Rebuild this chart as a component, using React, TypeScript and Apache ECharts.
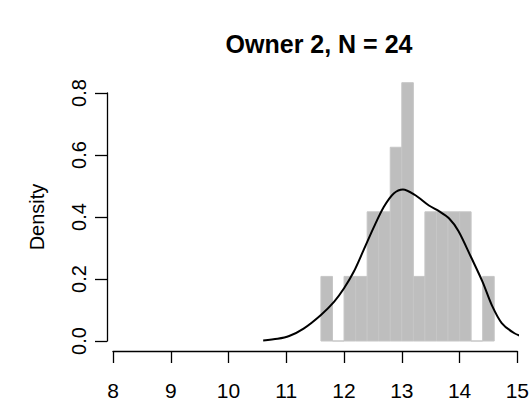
import React, { useEffect, useRef } from "react";
import * as echarts from "echarts";

// Histogram of owner 2's values (bins of width 0.2) with a kernel density overlay
const N = 24;
const binWidth = 0.2;
const binLeft = [11.6, 11.8, 12.0, 12.2, 12.4, 12.6, 12.8, 13.0, 13.2, 13.4, 13.6, 13.8, 14.0, 14.2, 14.4];
const binCounts = [1, 0, 1, 1, 2, 2, 3, 4, 1, 2, 2, 2, 2, 0, 1];

const densityX = [10.6, 10.85, 11.05, 11.3, 11.6, 11.83, 12.0, 12.17, 12.34, 12.52, 12.69, 12.86, 13.02, 13.23, 13.47, 13.65, 13.82, 13.98, 14.2, 14.4, 14.56, 14.73, 14.95, 15.13];
const densityY = [0.002, 0.007, 0.016, 0.04, 0.084, 0.127, 0.17, 0.224, 0.294, 0.369, 0.433, 0.476, 0.489, 0.471, 0.437, 0.418, 0.395, 0.355, 0.27, 0.19, 0.115, 0.058, 0.025, 0.012];

const xTickLabels = ["8", "9", "10", "11", "12", "13", "14", "15"];
const yTickLabels = ["0.0", "0.2", "0.4", "0.6", "0.8"];

const titleText = "Owner 2, N = 24";
const yName = "Density";

const FONT = "Liberation Sans, Arial, Helvetica, sans-serif";

export default function App() {
  const ref = useRef<HTMLDivElement>(null);

  useEffect(() => {
    if (!ref.current) return;
    const chart = echarts.init(ref.current, undefined, { renderer: "svg" });

    const bars = binLeft.map((l, i) => [l, l + binWidth, binCounts[i] / (N * binWidth)]);
    const curve = densityX.map((x, i) => [x, densityY[i]]);

    chart.setOption({
      animation: false,
      backgroundColor: "#ffffff",
      title: {
        text: titleText,
        left: 314,
        top: 26,
        textAlign: "center",
        textStyle: { fontFamily: FONT, fontSize: 25, fontWeight: "bold", color: "#000" },
      },
      grid: { left: 113, right: 13, top: 93, bottom: 61, containLabel: false },
      xAxis: {
        type: "value",
        min: 8,
        max: 15,
        interval: 1,
        offset: 10,
        splitLine: { show: false },
        axisLine: { show: true, onZero: false, lineStyle: { color: "#000", width: 1.3 } },
        axisTick: { show: true, length: 12, lineStyle: { color: "#000", width: 1.3 } },
        axisLabel: {
          margin: 29,
          fontFamily: FONT,
          fontSize: 21,
          color: "#000",
          formatter: (v: number) => xTickLabels[Math.round(v) - 8] ?? "",
        },
      },
      yAxis: {
        type: "value",
        min: 0,
        max: 0.8,
        interval: 0.2,
        offset: 6,
        name: yName,
        nameLocation: "middle",
        nameRotate: 90,
        nameGap: 60,
        nameTextStyle: { fontFamily: FONT, fontSize: 20, color: "#000" },
        splitLine: { show: false },
        axisLine: { show: true, onZero: false, lineStyle: { color: "#000", width: 1.3 } },
        axisTick: { show: true, length: 12, lineStyle: { color: "#000", width: 1.3 } },
        axisLabel: {
          rotate: 90,
          margin: 18,
          fontFamily: FONT,
          fontSize: 20,
          color: "#000",
          formatter: (v: number) => yTickLabels[Math.round(v * 5)] ?? "",
        },
      },
      series: [
        {
          type: "custom",
          clip: false,
          data: bars,
          encode: { x: [0, 1], y: 2 },
          renderItem: (_params: any, api: any) => {
            const x0 = api.value(0);
            const x1 = api.value(1);
            const d = api.value(2);
            const p0 = api.coord([x0, 0]);
            const p1 = api.coord([x1, d]);
            return {
              type: "rect",
              shape: { x: p0[0], y: p1[1], width: p1[0] - p0[0], height: p0[1] - p1[1] },
              style: { fill: "#BEBEBE", stroke: "#C6C6C6", lineWidth: 1 },
            };
          },
        },
        {
          type: "line",
          data: curve,
          clip: false,
          smooth: 0.3,
          showSymbol: false,
          symbol: "none",
          lineStyle: { color: "#000", width: 2 },
          z: 3,
        },
      ],
    });

    return () => chart.dispose();
  }, []);

  return (
    <div
      ref={ref}
      style={{ position: "absolute", left: 0, top: 0, width: 532, height: 402 }}
    />
  );
}
